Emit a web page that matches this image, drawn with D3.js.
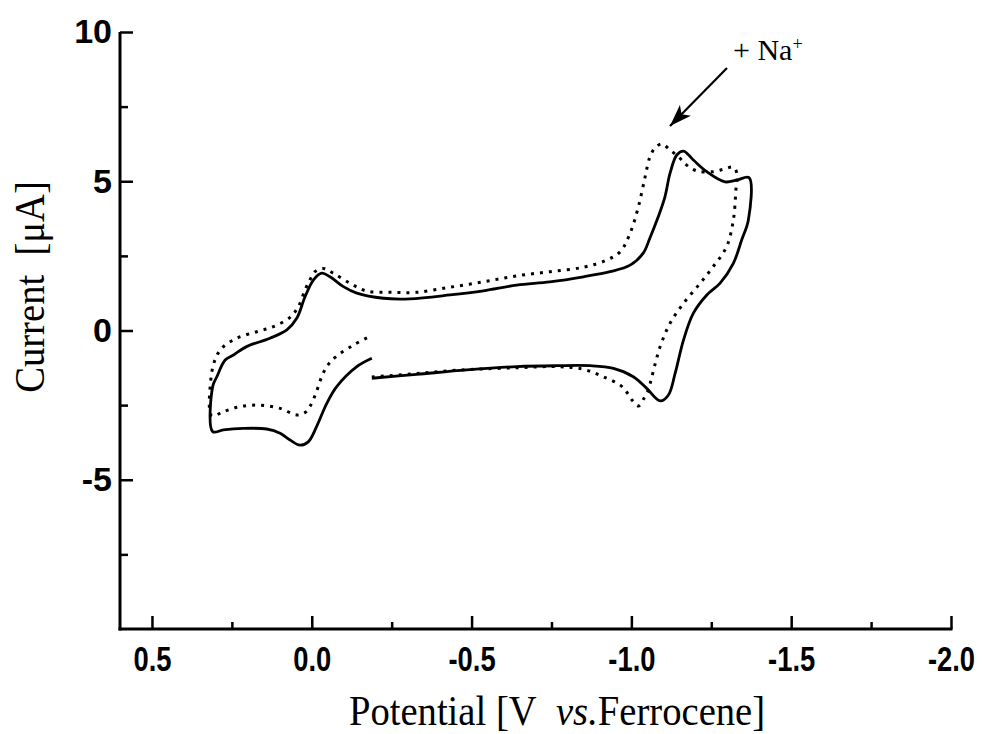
<!DOCTYPE html>
<html><head><meta charset="utf-8">
<script src="https://cdn.jsdelivr.net/npm/d3@7"></script>
<style>body{margin:0;background:#fff;}svg{display:block;}</style>
</head><body>
<script>
// Solid trace (no Na+): potential [V vs Fc], current [µA]
const solidE = [-0.188,-0.328,-0.485,-0.641,-0.766,-0.871,-0.944,-1.006,-1.048,-1.090,-1.116,-1.137,-1.163,-1.194,-1.236,-1.277,-1.319,-1.345,-1.366,-1.368,-1.330,-1.293,-1.236,-1.194,-1.163,-1.142,-1.121,-1.105,-1.084,-1.058,-1.037,-0.996,-0.933,-0.850,-0.745,-0.641,-0.537,-0.433,-0.307,-0.224,-0.141,-0.099,-0.057,-0.031,-0.005,0.021,0.047,0.078,0.131,0.204,0.245,0.271,0.297,0.310,0.310,0.277,0.214,0.141,0.099,0.068,0.037,0.011,-0.015,-0.047,-0.078,-0.141,-0.188];
const solidI = [-1.60,-1.47,-1.32,-1.21,-1.18,-1.18,-1.27,-1.55,-1.94,-2.36,-2.16,-1.43,-0.32,0.58,1.19,1.58,2.25,3.03,3.70,5.12,5.04,4.98,5.32,5.71,6.01,5.88,5.27,4.48,3.81,3.10,2.59,2.19,1.97,1.80,1.63,1.52,1.33,1.19,1.06,1.08,1.25,1.47,1.80,1.92,1.69,1.13,0.41,0.02,-0.26,-0.54,-0.82,-0.99,-1.55,-1.88,-3.39,-3.33,-3.28,-3.30,-3.44,-3.67,-3.84,-3.73,-3.22,-2.44,-1.88,-1.21,-0.93];
// Dotted trace (+ Na+)
const dottedE = [-0.188,-0.328,-0.485,-0.641,-0.766,-0.850,-0.912,-0.965,-0.985,-1.002,-1.022,-1.040,-1.053,-1.064,-1.090,-1.121,-1.163,-1.215,-1.256,-1.298,-1.319,-1.327,-1.330,-1.319,-1.288,-1.256,-1.204,-1.173,-1.152,-1.121,-1.095,-1.074,-1.058,-1.043,-1.022,-0.996,-0.965,-0.923,-0.850,-0.745,-0.641,-0.537,-0.433,-0.328,-0.245,-0.172,-0.120,-0.067,-0.036,-0.010,0.006,0.021,0.042,0.068,0.120,0.172,0.235,0.282,0.303,0.316,0.313,0.277,0.225,0.162,0.099,0.047,0.021,0.006,-0.013,-0.031,-0.047,-0.073,-0.130,-0.179];
const dottedI = [-1.56,-1.44,-1.31,-1.25,-1.21,-1.30,-1.55,-1.83,-2.06,-2.33,-2.53,-2.26,-1.99,-1.55,-0.54,0.24,0.91,1.58,2.14,2.81,3.70,4.71,5.27,5.47,5.40,5.32,5.35,5.54,5.77,6.05,6.25,6.11,5.82,5.15,4.15,3.26,2.64,2.36,2.12,1.97,1.83,1.63,1.45,1.28,1.28,1.32,1.58,1.92,2.08,1.97,1.69,1.36,0.80,0.44,0.13,-0.04,-0.26,-0.60,-0.99,-1.66,-2.86,-2.72,-2.55,-2.50,-2.61,-2.83,-2.75,-2.55,-2.10,-1.55,-1.21,-0.90,-0.49,-0.21];

const xTicks = [0.5, 0.0, -0.5, -1.0, -1.5, -2.0];
const xTickLabels = ["0.5","0.0","-0.5","-1.0","-1.5","-2.0"];
const xMinor = [0.25, -0.25, -0.75, -1.25, -1.75];
const yTicks = [10, 5, 0, -5];
const yTickLabels = ["10","5","0","-5"];
const yMinor = [7.5, 2.5, -2.5, -7.5];

const W = 986, H = 734;
const svg = d3.select("body").append("svg").attr("width", W).attr("height", H);

const x = d3.scaleLinear().domain([0.6, -2.0]).range([120, 951]);
const y = d3.scaleLinear().domain([-10, 10]).range([629, 32]);

// X axis
const gx = svg.append("g").attr("transform", `translate(0,${y(-10)})`);
gx.call(d3.axisBottom(x).tickValues(xTicks).tickSize(-13).tickPadding(16)
  .tickFormat((d,i) => xTickLabels[i]));
gx.append("g").call(d3.axisBottom(x).tickValues(xMinor).tickSize(-7).tickFormat(""))
  .select(".domain").remove();
gx.selectAll(".domain").attr("stroke-width", 3).attr("d", `M${x(0.6)-1.5},0H${x(-2.0)+1.5}`);
gx.selectAll(".tick line").attr("stroke-width", 2.5);
gx.selectAll(".tick text")
  .attr("font-family", "Liberation Sans, Arial, sans-serif")
  .attr("font-weight", "bold").attr("font-size", 36).attr("fill", "#000")
  .attr("transform", "scale(0.76,1)");

// Y axis
const gy = svg.append("g").attr("transform", `translate(${x(0.6)},0)`);
gy.call(d3.axisLeft(y).tickValues(yTicks).tickSize(-13).tickPadding(8)
  .tickFormat((d,i) => yTickLabels[i]));
gy.append("g").call(d3.axisLeft(y).tickValues(yMinor).tickSize(-8).tickFormat(""))
  .select(".domain").remove();
gy.selectAll(".domain").attr("stroke-width", 3).attr("d", `M0,${y(10)}V${y(-10)+1.5}`);
gy.selectAll(".tick line").attr("stroke-width", 2.5);
gy.selectAll(".tick text")
  .attr("font-family", "Liberation Sans, Arial, sans-serif")
  .attr("font-weight", "bold").attr("font-size", 34).attr("fill", "#000");

// Curves
const line = d3.line().x(d => x(d[0])).y(d => y(d[1])).curve(d3.curveCatmullRom.alpha(0.5));
const solid = solidE.map((e,i) => [e, solidI[i]]);
const dotted = dottedE.map((e,i) => [e, dottedI[i]]);
svg.append("path").attr("d", line(dotted)).attr("fill", "none")
  .attr("stroke", "#000").attr("stroke-width", 3).attr("stroke-dasharray", "3,6");
svg.append("path").attr("d", line(solid)).attr("fill", "none")
  .attr("stroke", "#000").attr("stroke-width", 2.8);

// Axis titles
svg.append("text").attr("transform", "translate(557,725) scale(0.92,1)").attr("text-anchor", "middle")
  .attr("font-family", "Liberation Serif, Times New Roman, serif").attr("font-size", 42)
  .html('Potential [V&#160; <tspan font-style="italic">vs.</tspan>Ferrocene]');
svg.append("text").attr("transform", "translate(44,287) rotate(-90) scale(0.92,1)").attr("text-anchor", "middle")
  .attr("font-family", "Liberation Serif, Times New Roman, serif").attr("font-size", 42)
  .html("Current&#160; [μA]");

// Annotation
const ann = svg.append("text").attr("x", 733).attr("y", 60)
  .attr("font-family", "Liberation Serif, Times New Roman, serif").attr("font-size", 30);
ann.append("tspan").text("+ Na");
ann.append("tspan").attr("font-size", 18).attr("dy", -10).text("+");

svg.append("defs").append("marker").attr("id", "ah").attr("viewBox", "0 0 10 7")
  .attr("refX", 10).attr("refY", 3.5).attr("markerWidth", 10).attr("markerHeight", 7)
  .attr("markerUnits", "strokeWidth").attr("orient", "auto")
  .append("path").attr("d", "M0,0L10,3.5L0,7L2.5,3.5Z").attr("fill", "#000");
svg.append("line").attr("x1", 727).attr("y1", 68).attr("x2", 670).attr("y2", 126)
  .attr("stroke", "#000").attr("stroke-width", 2.2).attr("marker-end", "url(#ah)");
</script>
</body></html>
